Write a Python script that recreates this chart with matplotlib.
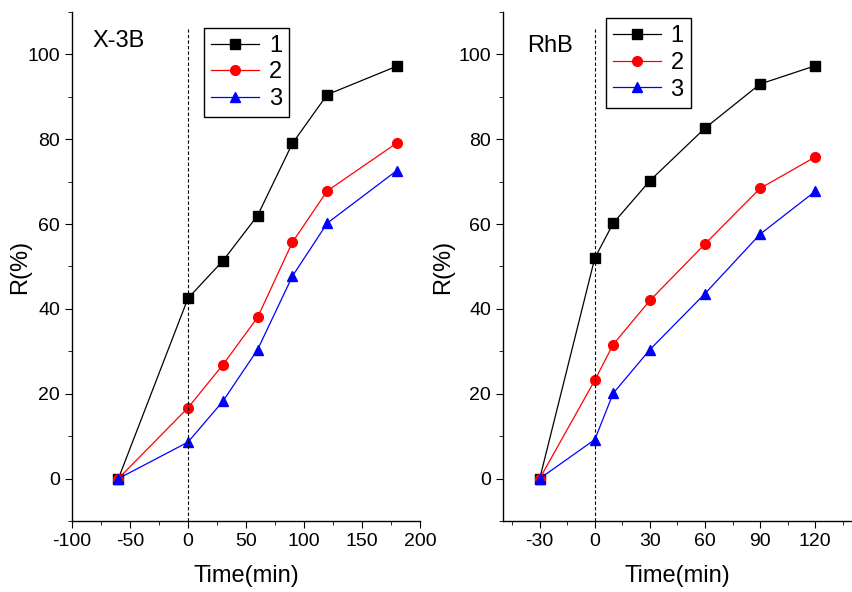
import matplotlib
matplotlib.use('Agg')
import matplotlib.pyplot as plt
from matplotlib.ticker import MultipleLocator

# X-3B panel
x_x3b = [-60, 0, 30, 60, 90, 120, 180]
x3b_1 = [0, 42.5, 51.3, 62.0, 79.0, 90.5, 97.2]
x3b_2 = [0, 16.7, 26.8, 38.0, 55.7, 67.8, 79.1]
x3b_3 = [0, 8.6, 18.2, 30.4, 47.7, 60.2, 72.6]

# RhB panel
x_rhb = [-30, 0, 10, 30, 60, 90, 120]
rhb_1 = [0, 52.0, 60.2, 70.2, 82.6, 93.0, 97.3]
rhb_2 = [0, 23.2, 31.6, 42.0, 55.3, 68.4, 75.8]
rhb_3 = [0, 9.2, 20.1, 30.4, 43.6, 57.6, 67.7]

labels = ['1', '2', '3']
colors = ['black', 'red', 'blue']
markers = ['s', 'o', '^']
msizes = [6.5, 7, 7.5]

plt.rcParams.update({
    'font.family': ['Liberation Sans', 'DejaVu Sans'],
    'font.size': 14,
    'axes.linewidth': 1.0,
    'axes.unicode_minus': False,
    'xtick.direction': 'out',
    'ytick.direction': 'out',
    'xtick.major.size': 5,
    'ytick.major.size': 5,
    'xtick.minor.size': 3,
    'ytick.minor.size': 3,
})

fig = plt.figure(figsize=(8.53, 5.92), dpi=100)
ax1 = fig.add_axes([0.0844, 0.1199, 0.408, 0.860])
ax2 = fig.add_axes([0.5897, 0.1199, 0.409, 0.860])


def draw_panel(ax, x, series, name, name_pos, xlim, xminor, xticks,
               leg_anchor, ylab_x):
    for y, lab, c, m, ms in zip(series, labels, colors, markers, msizes):
        ax.plot(x, y, color=c, marker=m, markersize=ms, linewidth=0.9,
                label=lab)
    ax.plot([0, 0], [-10, 106], color='black', linestyle='--', linewidth=0.8,
            dashes=(3, 2))
    ax.set_xlim(*xlim)
    ax.set_ylim(-10, 110)
    ax.set_xticks(xticks)
    ax.xaxis.set_minor_locator(MultipleLocator(xminor))
    ax.set_yticks([0, 20, 40, 60, 80, 100])
    ax.yaxis.set_minor_locator(MultipleLocator(10))
    ax.spines['top'].set_visible(False)
    ax.spines['right'].set_visible(False)
    ax.tick_params(labelsize=14)
    ax.set_xlabel('Time(min)', fontsize=17, labelpad=11)
    ax.set_ylabel('R(%)', fontsize=17)
    ax.yaxis.set_label_coords(ylab_x, 0.5)
    ax.text(name_pos[0], name_pos[1], name, transform=ax.transAxes,
            fontsize=17, va='center', ha='left')
    leg = ax.legend(loc='upper left', bbox_to_anchor=leg_anchor, fontsize=17,
                    frameon=True, fancybox=False, edgecolor='black',
                    framealpha=1, handlelength=2.05, handletextpad=0.4,
                    labelspacing=0.2, borderpad=0.3, borderaxespad=0)
    leg.get_frame().set_linewidth(1.0)


draw_panel(ax1, x_x3b, [x3b_1, x3b_2, x3b_3], 'X-3B', (0.058, 0.942),
           (-100, 200), 25, [-100, -50, 0, 50, 100, 150, 200], (0.379, 0.969),
           -0.118)
draw_panel(ax2, x_rhb, [rhb_1, rhb_2, rhb_3], 'RhB', (0.069, 0.934),
           (-50, 140), 15, [-30, 0, 30, 60, 90, 120], (0.294, 0.988),
           -0.14)

fig.savefig('out.png', dpi=100)
